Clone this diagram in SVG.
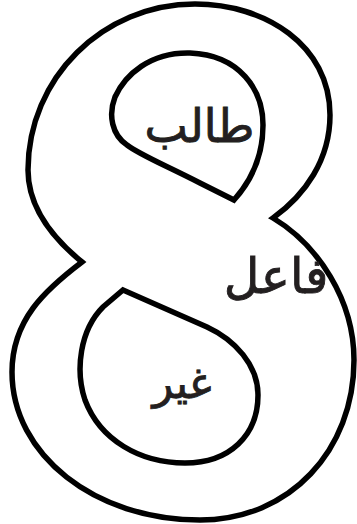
<svg xmlns="http://www.w3.org/2000/svg" width="357" height="524" viewBox="0 0 357 524">
<style>
.ol{fill:none;stroke:#000;stroke-width:5.5;stroke-linejoin:miter}
.t{font-family:"DejaVu Sans",sans-serif;fill:#231f20;stroke:#231f20;stroke-width:0.9;text-anchor:middle}
</style>
<rect width="357" height="524" fill="#fff"/>
<g id="outer">
<path class="ol" d="M195,4 C103,4 28,78 28,170 C28,210 55,240 82,262 C45,290 12,320 12,372 C12,455 95,520 200,520 C290,520 354,450 354,360 C354,300 318,245 273,218 C305,195 330,160 330,115 C330,45 265,4 195,4 Z"/>
</g>
<g id="upper-counter">
<path class="ol" d="M234,200 C252,180 263,155 263,125 C263,90 240,55 190,53 C150,52 125,75 115,97 C108,115 112,135 127,145 C140,155 165,165 200,183 Z"/>
</g>
<g id="lower-counter">
<path class="ol" d="M123,290 L207,327 C235,340 258,365 258,395 C258,435 230,463 185,463 C140,463 100,440 85,400 C75,370 80,330 103,307 Z"/>
</g>
<g id="word-talib"><text class="t" x="199.5" y="142" font-size="46">طالب</text></g>
<g id="word-faail"><text class="t" x="276" y="293" font-size="49">فاعل</text></g>
<g id="word-ghayr"><text class="t" x="182" y="398" font-size="43">غير</text></g>
</svg>
